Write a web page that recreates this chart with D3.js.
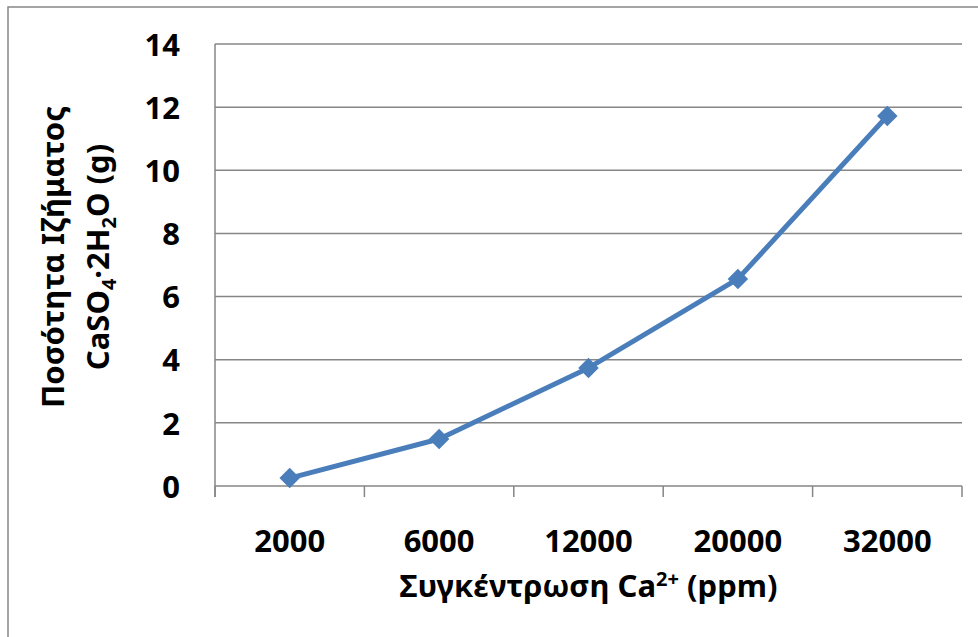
<!DOCTYPE html>
<html>
<head>
<meta charset="utf-8">
<script src="https://cdn.jsdelivr.net/npm/d3@7"></script>
<style>
	body { margin: 0; background: #fff; }
	text { font-family: "Noto Sans", "Open Sans", sans-serif; font-weight: bold; fill: #000; }
</style>
</head>
<body>
<div id="chart"></div>
<script>
// Categories (ppm Ca2+) and measured precipitate (g)
const categories = ["2000", "6000", "12000", "20000", "32000"];
const precipitate = [0.25, 1.49, 3.74, 6.56, 11.72];
const yTicks = [0, 2, 4, 6, 8, 10, 12, 14];

(function (d3) {
	"use strict";
	const width = 978, height = 637;
	const margin = { top: 44, right: 16, bottom: 151, left: 215 };
	const plotW = width - margin.left - margin.right;
	const plotH = height - margin.top - margin.bottom;
	const gridColor = "#868686";
	const lineColor = "#4a7ebb";

	const svg = d3.select("#chart").append("svg")
		.attr("width", width)
		.attr("height", height);

	// outer chart border (runs off the right and bottom edges)
	svg.append("rect")
		.attr("x", 8).attr("y", 7)
		.attr("width", width + 20).attr("height", height + 20)
		.attr("fill", "none")
		.attr("stroke", gridColor)
		.attr("stroke-width", 1.5);

	const g = svg.append("g")
		.attr("transform", "translate(" + margin.left + "," + margin.top + ")");

	const x = d3.scaleBand().domain(categories).range([0, plotW]);
	const y = d3.scaleLinear().domain([0, 14]).range([plotH, 0]);

	// horizontal gridlines
	g.selectAll(".grid").data(yTicks).enter()
		.append("line")
		.attr("x1", 0).attr("x2", plotW)
		.attr("y1", d => y(d)).attr("y2", d => y(d))
		.attr("stroke", gridColor)
		.attr("stroke-width", 1.5);

	// y axis
	const yAxis = g.append("g")
		.call(d3.axisLeft(y).tickValues(yTicks).tickSize(0).tickPadding(35));
	yAxis.select(".domain").attr("stroke", gridColor).attr("stroke-width", 1.5)
		.attr("d", "M0," + (plotH + 11) + "V0");
	yAxis.selectAll("text").attr("font-size", 31).attr("font-family", null)
		.attr("dy", "0.36em");

	// x axis: tick marks at category boundaries
	const bounds = d3.range(categories.length + 1).map(i => i * x.bandwidth());
	g.selectAll(".xtick").data(bounds).enter()
		.append("line")
		.attr("x1", d => d).attr("x2", d => d)
		.attr("y1", plotH).attr("y2", plotH + 11)
		.attr("stroke", gridColor)
		.attr("stroke-width", 1.5);
	g.selectAll(".xlabel").data(categories).enter()
		.append("text")
		.attr("x", d => x(d) + x.bandwidth() / 2)
		.attr("y", plotH + 66)
		.attr("text-anchor", "middle")
		.attr("font-size", 31)
		.text(d => d);

	// data line
	const line = d3.line()
		.x((d, i) => x(categories[i]) + x.bandwidth() / 2)
		.y(d => y(d));
	g.append("path")
		.datum(precipitate)
		.attr("d", line)
		.attr("fill", "none")
		.attr("stroke", lineColor)
		.attr("stroke-width", 5)
		.attr("stroke-linejoin", "round");

	// diamond markers
	g.selectAll(".marker").data(precipitate).enter()
		.append("path")
		.attr("d", d3.symbol().type(d3.symbolSquare).size(210))
		.attr("transform", (d, i) => "translate(" + (x(categories[i]) + x.bandwidth() / 2) + "," + y(d) + ") rotate(45)")
		.attr("fill", lineColor);

	// axis titles
	const xTitle = svg.append("text")
		.attr("x", margin.left + plotW / 2)
		.attr("y", 597)
		.attr("text-anchor", "middle")
		.attr("font-size", 31);
	xTitle.append("tspan").text("Συγκέντρωση Ca");
	xTitle.append("tspan").attr("font-size", 20).attr("dy", -11).text("2+");
	xTitle.append("tspan").attr("dy", 11).text(" (ppm)");

	const yTitle = svg.append("g")
		.attr("transform", "translate(64,257) rotate(-90)");
	yTitle.append("text")
		.attr("text-anchor", "middle")
		.attr("font-size", 31)
		.text("Ποσότητα Ιζήματος");
	const yt2 = yTitle.append("text")
		.attr("y", 45)
		.attr("text-anchor", "middle")
		.attr("font-size", 31);
	yt2.append("tspan").text("CaSO");
	yt2.append("tspan").attr("font-size", 20).attr("dy", 7).text("4");
	yt2.append("tspan").attr("dy", -7).text("·2H");
	yt2.append("tspan").attr("font-size", 20).attr("dy", 7).text("2");
	yt2.append("tspan").attr("dy", -7).text("O (g)");
})(d3);
</script>
</body>
</html>
